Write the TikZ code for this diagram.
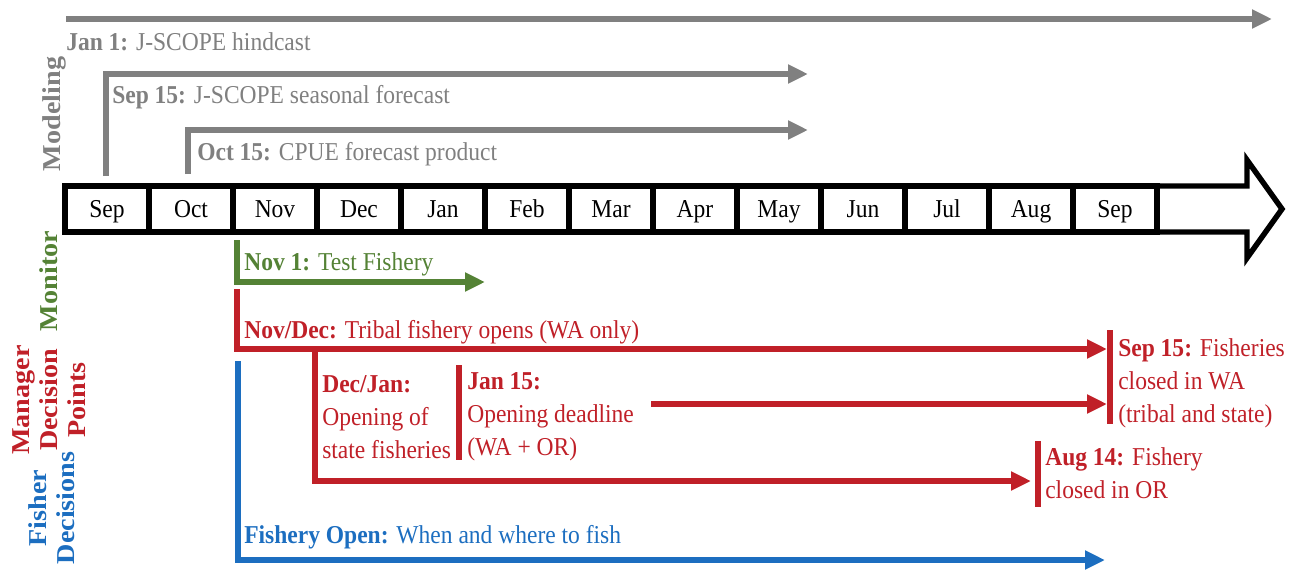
\documentclass[tikz,border=0pt]{standalone}
\usepackage{fontspec}
\setmainfont{Liberation Serif}
\newfontfamily\hfont{Liberation Serif}[FakeStretch=0.914]
\newfontfamily\vfont{Liberation Serif}[FakeStretch=1.094]
\usetikzlibrary{arrows.meta}
\definecolor{cgray}{RGB}{128,128,128}
\definecolor{cred}{RGB}{192,32,40}
\definecolor{cgreen}{RGB}{84,130,53}
\definecolor{cblue}{RGB}{28,110,192}
\begin{document}
\begin{tikzpicture}[x=0.75pt,y=-0.75pt,
  hl/.style={font=\hfont\fontsize{19.3}{24.75}\selectfont, inner sep=0pt, align=left},
  vl/.style={font=\vfont\bfseries\fontsize{19.3}{21}\selectfont, inner sep=0pt, rotate=90, align=center},
  ln/.style={line width=3.8pt, line join=miter, line cap=butt},
  tip/.style={-{Triangle[length=15pt,width=13.5pt]}},
  month/.style={draw=black, line width=4.1pt, minimum width=63pt, minimum height=34.5pt,
    inner sep=0pt, text height=14pt, text depth=2pt,
    font=\hfont\fontsize{19.3}{22}\selectfont}
]
\useasboundingbox (0,0) rectangle (1292,575);

% ---------- Modeling (gray) ----------
\coordinate (a0) at (66,19);
\coordinate (a1) at (1272,19);
\draw[ln, cgray, tip] (a0) -- (a1);
\node[hl, text=cgray, anchor=base west] (jan1) at (66,50) {\textbf{Jan 1:} J-SCOPE hindcast};

\coordinate (b0) at (106,176);
\coordinate (b1) at (106,74);
\coordinate (b2) at (808,74);
\draw[ln, cgray, tip] (b0) -- (b1) -- (b2);
\node[hl, text=cgray, anchor=base west] (sep15m) at (112,103) {\textbf{Sep 15:} J-SCOPE seasonal forecast};

\coordinate (c0) at (188,174);
\coordinate (c1) at (188,130);
\coordinate (c2) at (808,130);
\draw[ln, cgray, tip] (c0) -- (c1) -- (c2);
\node[hl, text=cgray, anchor=base west] (oct15) at (197,160) {\textbf{Oct 15:} CPUE forecast product};

\node[vl, text=cgray, anchor=base] (modeling) at (60,114) {Modeling};

% ---------- Timeline ----------
\draw[line width=4.1pt, line join=miter] (65,186) -- (1247,186) -- (1247,160) -- (1282,209)
  -- (1247,258) -- (1247,232) -- (65,232) -- cycle;
\foreach \m [count=\i from 0] in {Sep,Oct,Nov,Dec,Jan,Feb,Mar,Apr,May,Jun,Jul,Aug,Sep}
  \node[month] (m\i) at ({107+84*\i},209) {\m};

% ---------- Monitor (green) ----------
\coordinate (d0) at (237,240);
\coordinate (d1) at (237,282);
\coordinate (d2) at (485,282);
\draw[ln, cgreen, tip] (d0) -- (d1) -- (d2);
\node[hl, text=cgreen, anchor=base west] (nov1) at (244,270) {\textbf{Nov 1:} Test Fishery};
\node[vl, text=cgreen, anchor=base] (monitor) at (57,281) {Monitor};

% ---------- Manager decision points (red) ----------
\coordinate (e0) at (237,289);
\coordinate (e1) at (237,349);
\coordinate (e2) at (1107,349);
\draw[ln, cred, tip] (e0) -- (e1) -- (e2);
\node[hl, text=cred, anchor=base west] (novdec) at (244,338) {\textbf{Nov/Dec:} Tribal fishery opens (WA only)};

\coordinate (f0) at (315,352);
\coordinate (f1) at (315,481);
\coordinate (f2) at (1031,481);
\draw[ln, cred, tip] (f0) -- (f1) -- (f2);
\node[hl, text=cred, anchor=base west] (decjan) at (322,458) {\textbf{Dec/Jan:}\\Opening of\\state fisheries};

\coordinate (g0) at (459,365);
\coordinate (g1) at (459,460);
\draw[ln, cred] (g0) -- (g1);
\node[hl, text=cred, anchor=base west] (jan15) at (467,455) {\textbf{Jan 15:}\\Opening deadline\\(WA + OR)};
\coordinate (h0) at (651,404);
\coordinate (h1) at (1107,404);
\draw[ln, cred, tip] (h0) -- (h1);

\coordinate (i0) at (1110,330);
\coordinate (i1) at (1110,424);
\draw[ln, cred] (i0) -- (i1);
\node[hl, text=cred, anchor=base west] (sep15c) at (1118,422) {\textbf{Sep 15:} Fisheries\\closed in WA\\(tribal and state)};

\coordinate (j0) at (1038,441);
\coordinate (j1) at (1038,507);
\draw[ln, cred] (j0) -- (j1);
\node[hl, text=cred, anchor=base west] (aug14) at (1045,498) {\textbf{Aug 14:} Fishery\\closed in OR};

\node[vl, text=cred] (mgr) at (49,400) {Manager\\Decision\\Points};

% ---------- Fisher decisions (blue) ----------
\coordinate (k0) at (238,361);
\coordinate (k1) at (238,560);
\coordinate (k2) at (1105,560);
\draw[ln, cblue, tip] (k0) -- (k1) -- (k2);
\node[hl, text=cblue, anchor=base west] (open) at (244,543) {\textbf{Fishery Open:} When and where to fish};
\node[vl, text=cblue] (fisher) at (52,508) {Fisher\\Decisions};
\end{tikzpicture}
\end{document}
